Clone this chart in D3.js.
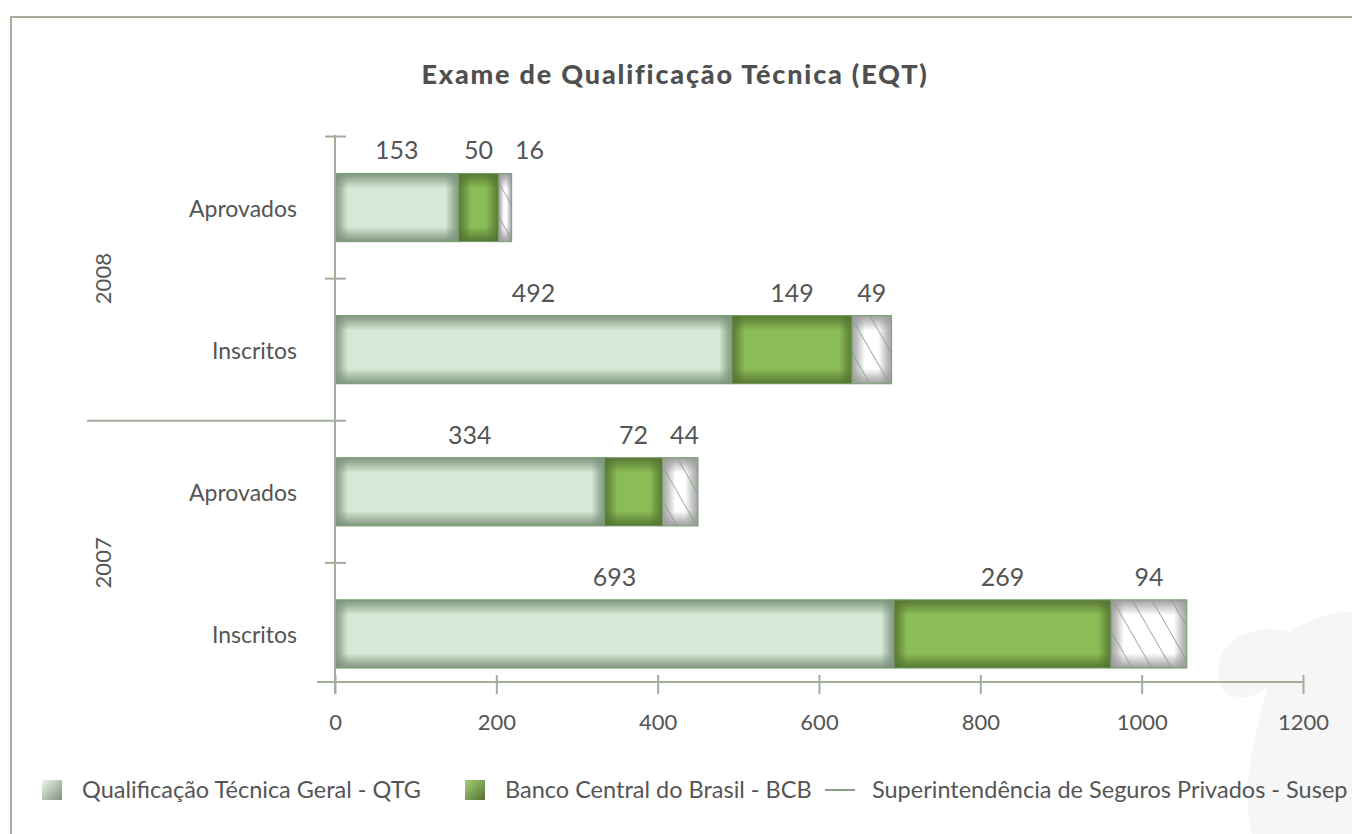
<!DOCTYPE html>
<html>
<head>
<meta charset="utf-8">
<script src="https://cdn.jsdelivr.net/npm/d3@7"></script>
<style>
  body { margin: 0; background: #fff; }
  text { font-family: Lato, "Noto Sans", sans-serif; fill: #555; }
</style>
</head>
<body>
<div id="container"></div>
<script>
// data
var categories = ["Aprovados", "Inscritos", "Aprovados", "Inscritos"];
var groups = ["2008", "2008", "2007", "2007"];
var seriesNames = ["Qualificação Técnica Geral - QTG", "Banco Central do Brasil - BCB", "Superintendência de Seguros Privados - Susep"];
var qtg = [153, 492, 334, 693];
var bcb = [50, 149, 72, 269];
var susep = [16, 49, 44, 94];
var xTicks = [0, 200, 400, 600, 800, 1000, 1200];

var W = 1352, H = 834;
var axisColor = "#a3ad9c";

var svg = d3.select("#container").append("svg")
  .attr("width", W).attr("height", H);
var defs = svg.append("defs");

// hatch for Susep
var pat = defs.append("pattern")
  .attr("id", "hatch").attr("patternUnits", "userSpaceOnUse")
  .attr("width", 17).attr("height", 17)
  .attr("patternTransform", "rotate(-30)");
pat.append("line").attr("x1", 0).attr("y1", 0).attr("x2", 0).attr("y2", 17)
  .attr("stroke", "#8d9c86").attr("stroke-width", 1.6);

// vertical bevel
function vgrad(id, col) {
  var g = defs.append("linearGradient").attr("id", id)
    .attr("x1", 0).attr("y1", 0).attr("x2", 0).attr("y2", 1);
  [[0, .95], [.06, .7], [.22, 0], [.78, 0], [.94, .7], [1, .95]].forEach(function (s) {
    g.append("stop").attr("offset", s[0]).attr("stop-color", col).attr("stop-opacity", s[1]);
  });
}
var series = [
  { key: "qtg", name: seriesNames[0], values: qtg, base: "#d6e9d6", dark: "#7b917a" },
  { key: "bcb", name: seriesNames[1], values: bcb, base: "#8bbd57", dark: "#557331" },
  { key: "susep", name: seriesNames[2], values: susep, base: "#ffffff", dark: "#9a9a9a" }
];
series.forEach(function (s) { vgrad("v_" + s.key, s.dark); });

// frame
svg.append("rect").attr("x", 11).attr("y", 17).attr("width", 1420).attr("height", 900)
  .attr("fill", "none").attr("stroke", axisColor).attr("stroke-width", 2);

// watermark swoosh
svg.append("path")
  .attr("d", "M1352,612 C1325,612 1305,622 1290,632 C1262,622 1222,636 1218,668 C1214,700 1245,704 1268,688 C1255,730 1240,790 1252,834 L1352,834 Z")
  .attr("fill", "#f6f6f6");

// title
svg.append("text").attr("x", 675).attr("y", 84).attr("text-anchor", "middle")
  .style("font-size", "27px").style("font-weight", "900").style("letter-spacing", "1.8px")
  .style("fill", "#4f4f4f")
  .text("Exame de Qualificação Técnica (EQT)");

// scales
var x = d3.scaleLinear().domain([0, 1200]).range([335, 1303]);
var y = d3.scaleBand().domain(d3.range(categories.length))
  .range([136.5, 705]).paddingInner(0.52).paddingOuter(0.26);
var step = y.step(), bw = y.bandwidth();
var axisY = 682;

// stacked data
var rows = categories.map(function (c, i) {
  return { qtg: qtg[i], bcb: bcb[i], susep: susep[i], i: i };
});
var stack = d3.stack().keys(["qtg", "bcb", "susep"])(rows);
var labelRight = categories.map(function () { return -Infinity; });
var labelFont = 25;

stack.forEach(function (layer, si) {
  var s = series[si];
  var g = svg.append("g");
  layer.forEach(function (d, i) {
    var x0 = x(d[0]), x1 = x(d[1]), w = x1 - x0, yy = y(i);
    var gid = "h_" + s.key + i;
    var e = Math.min(13 / w, 0.4);
    var hg = defs.append("linearGradient").attr("id", gid)
      .attr("gradientUnits", "userSpaceOnUse")
      .attr("x1", x0).attr("y1", 0).attr("x2", x1).attr("y2", 0);
    [[0, .9], [e * 0.4, .6], [e, 0], [1 - e, 0], [1 - e * 0.4, .6], [1, .9]].forEach(function (st) {
      hg.append("stop").attr("offset", st[0]).attr("stop-color", s.dark).attr("stop-opacity", st[1]);
    });
    g.append("rect").attr("x", x0).attr("y", yy).attr("width", w).attr("height", bw)
      .attr("fill", s.base);
    g.append("rect").attr("x", x0).attr("y", yy).attr("width", w).attr("height", bw)
      .attr("fill", "url(#v_" + s.key + ")");
    g.append("rect").attr("x", x0).attr("y", yy).attr("width", w).attr("height", bw)
      .attr("fill", "url(#" + gid + ")");
    if (s.key === "susep") {
      g.append("rect").attr("x", x0).attr("y", yy).attr("width", w).attr("height", bw)
        .attr("fill", "url(#hatch)");
    }
    g.append("rect").attr("x", x0).attr("y", yy).attr("width", w).attr("height", bw)
      .attr("fill", "none").attr("stroke", "#77a070").attr("stroke-width", 1);
    // value label, pushed right if it would collide with the previous one
    var t = svg.append("text").attr("y", yy - 14)
      .attr("text-anchor", "middle").style("font-size", labelFont + "px")
      .text(s.values[i]);
    var tw = t.node().getComputedTextLength();
    var cx = Math.max((x0 + x1) / 2, labelRight[i] + 22 + tw / 2);
    t.attr("x", cx);
    labelRight[i] = cx + tw / 2;
  });
});

// y axis
svg.append("line").attr("x1", 335).attr("x2", 335).attr("y1", 135).attr("y2", 694)
  .attr("stroke", axisColor).attr("stroke-width", 2);
var bounds = [y.range()[0]].concat(d3.range(1, categories.length).map(function (i) {
  return y(i) - (step - bw) / 2;
}));
bounds.forEach(function (b, i) {
  var sep = i > 0 && groups[i] !== groups[i - 1];
  svg.append("line").attr("x1", sep ? 87 : 325).attr("x2", 346)
    .attr("y1", b).attr("y2", b)
    .attr("stroke", axisColor).attr("stroke-width", 2);
});

// category labels
categories.forEach(function (c, i) {
  svg.append("text").attr("x", 297).attr("y", y(i) + bw / 2 + 9)
    .attr("text-anchor", "end").style("font-size", "23px").text(c);
});

// group labels
var groupNames = Array.from(new Set(groups));
groupNames.forEach(function (gname) {
  var idx = d3.range(groups.length).filter(function (i) { return groups[i] === gname; });
  var top = y(idx[0]) - (step - bw) / 2, bot = y(idx[idx.length - 1]) + bw + (step - bw) / 2;
  var cy = (top + bot) / 2;
  svg.append("text").attr("transform", "translate(111," + cy + ") rotate(-90)")
    .attr("text-anchor", "middle").style("font-size", "22px").text(gname);
});

// x axis
svg.append("line").attr("x1", 317).attr("x2", 1303).attr("y1", axisY).attr("y2", axisY)
  .attr("stroke", axisColor).attr("stroke-width", 2);
var xAxis = d3.axisBottom(x).tickValues(xTicks).tickFormat(d3.format("d"))
  .tickSize(12).tickPadding(20);
var gx = svg.append("g").attr("transform", "translate(0," + axisY + ")").call(xAxis);
gx.select(".domain").remove();
gx.selectAll(".tick line").attr("y1", -7).attr("y2", 12)
  .attr("stroke", axisColor).attr("stroke-width", 2);
gx.selectAll(".tick text").style("font-size", "22px").style("font-family", "Lato, sans-serif")
  .attr("fill", "#555");

// legend
var legendX = [42, 465, 825];
var legendY = 790;
series.forEach(function (s, i) {
  var lg = svg.append("g").attr("transform", "translate(" + legendX[i] + "," + legendY + ")");
  if (s.key === "susep") {
    lg.append("line").attr("x1", 0).attr("x2", 30).attr("y1", 0).attr("y2", 0)
      .attr("stroke", "#8d9c86").attr("stroke-width", 2);
    lg.append("text").attr("x", 47).attr("y", 8).style("font-size", "23.5px").text(s.name);
  } else {
    var id = "lg_" + s.key;
    var g2 = defs.append("linearGradient").attr("id", id)
      .attr("x1", 0).attr("y1", 0).attr("x2", 1).attr("y2", 1);
    g2.append("stop").attr("offset", 0).attr("stop-color", s.key === "qtg" ? "#eef5ee" : "#a5cf78");
    g2.append("stop").attr("offset", 1).attr("stop-color", s.dark);
    lg.append("rect").attr("x", 0).attr("y", -10).attr("width", 20).attr("height", 20)
      .attr("fill", "url(#" + id + ")");
    lg.append("text").attr("x", 40).attr("y", 8).style("font-size", "23.5px").text(s.name);
  }
});
</script>
</body>
</html>
